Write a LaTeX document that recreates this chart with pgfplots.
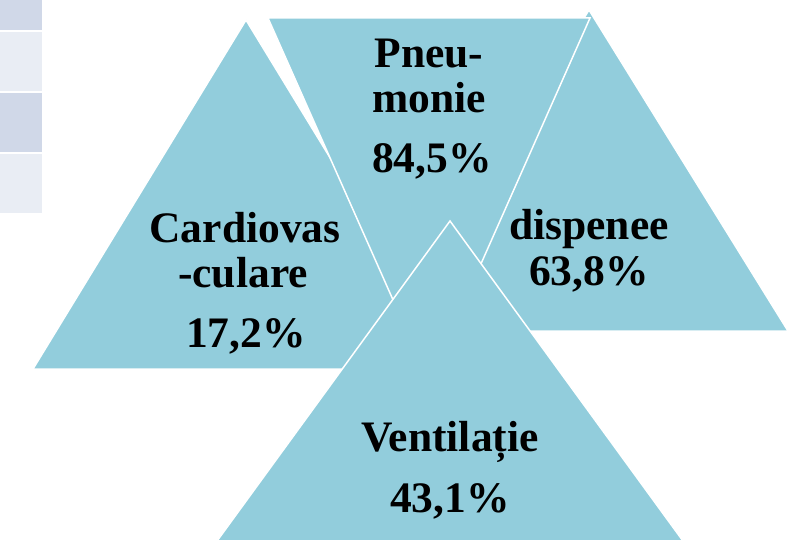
\documentclass[border=0pt]{standalone}
\usepackage{fontspec}
\setmainfont{Liberation Serif}
\usepackage{pgfplots}
\pgfplotsset{compat=1.18}
\definecolor{tri}{HTML}{92CDDC}
\definecolor{celldark}{HTML}{D0D8E8}
\definecolor{celllight}{HTML}{E9EDF4}
\tikzset{lbl/.style={font=\bfseries\fontsize{43.5}{50}\selectfont, anchor=base, inner sep=0pt, text=black}}
\begin{document}
\begin{tikzpicture}
\begin{axis}[
  width=795pt, height=540pt, scale only axis,
  xmin=0, xmax=795, ymin=0, ymax=540, y dir=reverse,
  hide axis, clip=true,
]
% background
\addplot[fill=white, draw=none] coordinates {(0,0) (795,0) (795,540) (0,540)} --cycle;
% table remnants at left
\addplot[fill=celldark, draw=none] coordinates {(0,0) (42,0) (42,30) (0,30)} --cycle;
\addplot[fill=celllight, draw=none] coordinates {(0,32) (42,32) (42,91) (0,91)} --cycle;
\addplot[fill=celldark, draw=none] coordinates {(0,93) (42,93) (42,152) (0,152)} --cycle;
\addplot[fill=celllight, draw=none] coordinates {(0,154) (42,154) (42,213) (0,213)} --cycle;
% triangles
\addplot[fill=tri, draw=white, line width=1.5pt] coordinates {(33,369) (246,20) (459,369)} --cycle;
\addplot[fill=tri, draw=white, line width=1.5pt] coordinates {(390,331) (589,10) (788,331)} --cycle;
\addplot[fill=tri, draw=white, line width=1.5pt] coordinates {(268,18) (590,18) (429,381)} --cycle;
\addplot[fill=tri, draw=white, line width=1.5pt] coordinates {(450,221) (699,563) (201,563)} --cycle;
% labels
\node[lbl] at (axis cs:429,68) {Pneu-};
\node[lbl] at (axis cs:429,113) {monie};
\node[lbl] at (axis cs:432,173) {84,5\%};
\node[lbl] at (axis cs:245,243) {Cardiovas};
\node[lbl] at (axis cs:243,287) {-culare};
\node[lbl] at (axis cs:246,347) {17,2\%};
\node[lbl] at (axis cs:589,240) {dispenee};
\node[lbl] at (axis cs:589,285) {63,8\%};
\node[lbl] at (axis cs:450,451) {Ventilație};
\node[lbl] at (axis cs:450,512) {43,1\%};
\end{axis}
\end{tikzpicture}
\end{document}
